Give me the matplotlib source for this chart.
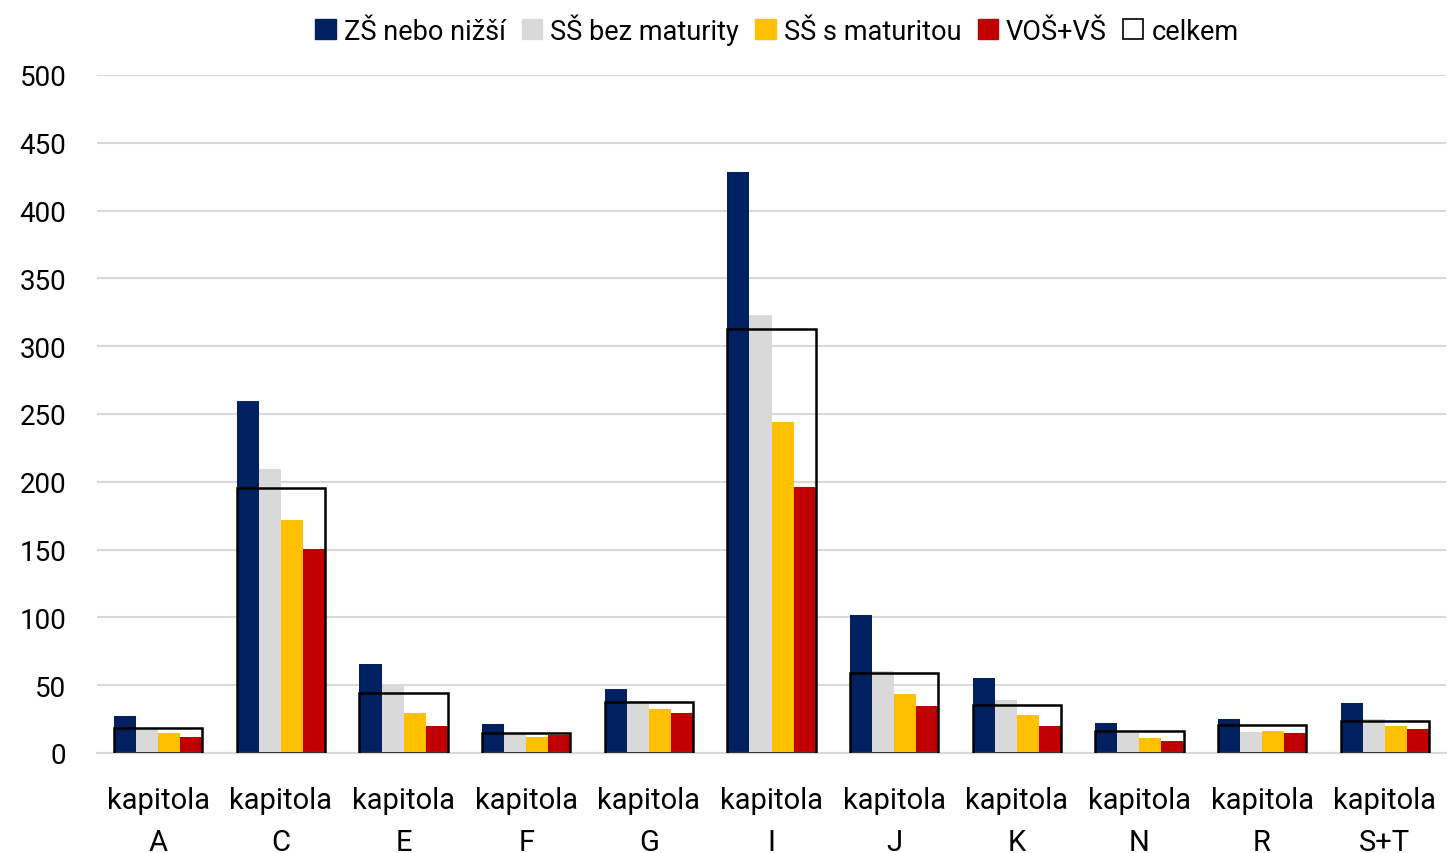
import matplotlib
matplotlib.use("Agg")
import matplotlib.pyplot as plt
import numpy as np
from matplotlib.patches import Patch

plt.rcParams['font.family'] = ['Roboto', 'DejaVu Sans']

categories = ["kapitola\nA", "kapitola\nC", "kapitola\nE", "kapitola\nF", "kapitola\nG",
              "kapitola\nI", "kapitola\nJ", "kapitola\nK", "kapitola\nN", "kapitola\nR",
              "kapitola\nS+T"]
zs = [27.5, 259.5, 65.5, 21.2, 47.5, 428.3, 101.8, 55.5, 22.0, 24.8, 36.6]
ss_bez = [17.7, 209.7, 49.4, 14.0, 38.6, 322.8, 60.2, 39.0, 14.7, 15.5, 24.8]
ss_mat = [15.0, 171.6, 29.5, 11.6, 32.4, 243.9, 43.3, 28.0, 11.0, 16.0, 19.9]
vos_vs = [11.8, 150.5, 19.9, 13.5, 29.5, 196.0, 34.7, 19.9, 9.0, 15.0, 17.7]
celkem = [18.2, 195.7, 44.5, 15.0, 37.4, 312.7, 59.0, 35.6, 16.0, 20.4, 23.8]

series = [("ZŠ nebo nižší", zs, "#002060"),
          ("SŠ bez maturity", ss_bez, "#d9d9d9"),
          ("SŠ s maturitou", ss_mat, "#ffc000"),
          ("VOŠ+VŠ", vos_vs, "#c00000")]

fig = plt.figure(figsize=(14.47, 8.54), dpi=100)
ax = fig.add_axes([97/1447, 1-754/854, (1446-97)/1447, (754-76)/854])

x = np.arange(len(categories))
bw = 0.18
offsets = [-1.5, -0.5, 0.5, 1.5]
for (name, vals, col), off in zip(series, offsets):
    ax.bar(x + off*bw, vals, width=bw, color=col, zorder=2, label=name)
ax.bar(x, celkem, width=4*bw, facecolor='none', edgecolor='black', linewidth=1.8, zorder=3, label='celkem')

ax.set_xlim(-0.5, len(categories)-0.5)
ax.set_ylim(0, 500)
ax.set_yticks(np.arange(0, 501, 50))
ax.yaxis.grid(True, color='#d9d9d9', linewidth=1.5, zorder=0)
ax.set_axisbelow(True)
for s in ['top', 'right', 'left']:
    ax.spines[s].set_visible(False)
ax.spines['bottom'].set_color('#d9d9d9')
ax.spines['bottom'].set_linewidth(1.5)
ax.set_xticks(x)
ax.set_xticklabels(categories, fontsize=21, linespacing=1.6)
ax.tick_params(axis='x', length=0, pad=24)
ax.tick_params(axis='y', length=0, pad=22, labelsize=20)

handles = [Patch(facecolor=c, edgecolor=c) for _, _, c in series] + \
          [Patch(facecolor='white', edgecolor='black', linewidth=1.2)]
labels = [n for n, _, _ in series] + ['celkem']
fig.legend(handles, labels, loc='center', bbox_to_anchor=(777/1447, 1-30/854), ncol=5,
           frameon=False, fontsize=19.5, handlelength=0.75, handleheight=0.75,
           handletextpad=0.3, columnspacing=0.6)

fig.savefig("out.png", dpi=100)
